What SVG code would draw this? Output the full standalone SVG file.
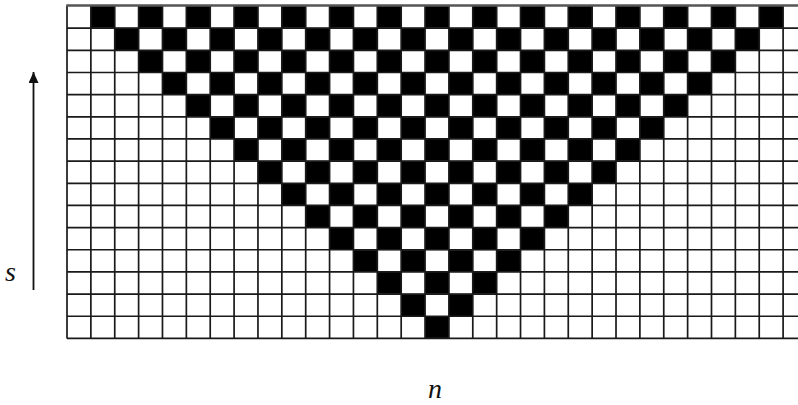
<svg xmlns="http://www.w3.org/2000/svg" width="798" height="405" viewBox="0 0 798 405">
  <style>
    .grid { stroke: #1a1a1a; stroke-width: 1.7; fill: none; }
    .lbl { font-family: "Liberation Serif", "DejaVu Serif", serif; font-style: italic; font-size: 28px; fill: #111; }
    .axis { stroke: #111; stroke-width: 1.8; fill: none; }
  </style>
  <defs>
    <pattern id="checker" patternUnits="userSpaceOnUse" x="67" y="6" width="47.74" height="44.32">
      <rect x="23.87" y="0" width="23.87" height="22.16" fill="#000"/>
      <rect x="0" y="22.16" width="23.87" height="22.16" fill="#000"/>
    </pattern>
    <marker id="arrow" markerUnits="userSpaceOnUse" markerWidth="11" markerHeight="10" refX="11" refY="5" viewBox="0 0 11 10" orient="auto">
      <path d="M0,0 L11,5 L0,10 Z" fill="#111"/>
    </marker>
  </defs>
  <rect x="0" y="0" width="798" height="405" fill="#fff"/>

  <g id="cells">
    <polygon fill="url(#checker)" points="90.87,6 90.87,28.16 114.74,28.16 114.74,50.32 138.61,50.32 138.61,72.48 162.48,72.48 162.48,94.64 186.35,94.64 186.35,116.8 210.22,116.8 210.22,138.96 234.09,138.96 234.09,161.12 257.96,161.12 257.96,183.28 281.83,183.28 281.83,205.44 305.7,205.44 305.7,227.6 329.57,227.6 329.57,249.76 353.44,249.76 353.44,271.92 377.31,271.92 377.31,294.08 401.18,294.08 401.18,316.24 425.05,316.24 425.05,338.4 448.92,338.4 448.92,316.24 472.79,316.24 472.79,294.08 496.66,294.08 496.66,271.92 520.53,271.92 520.53,249.76 544.4,249.76 544.4,227.6 568.27,227.6 568.27,205.44 592.14,205.44 592.14,183.28 616.01,183.28 616.01,161.12 639.88,161.12 639.88,138.96 663.75,138.96 663.75,116.8 687.62,116.8 687.62,94.64 711.49,94.64 711.49,72.48 735.36,72.48 735.36,50.32 759.23,50.32 759.23,28.16 783.1,28.16 783.1,6"/>
  </g>

  <g id="grid" class="grid">
    <path d="M67,6V338.4 M90.87,6V338.4 M114.74,6V338.4 M138.61,6V338.4 M162.48,6V338.4 M186.35,6V338.4 M210.22,6V338.4 M234.09,6V338.4 M257.96,6V338.4 M281.83,6V338.4 M305.7,6V338.4 M329.57,6V338.4 M353.44,6V338.4 M377.31,6V338.4 M401.18,6V338.4 M425.05,6V338.4 M448.92,6V338.4 M472.79,6V338.4 M496.66,6V338.4 M520.53,6V338.4 M544.4,6V338.4 M568.27,6V338.4 M592.14,6V338.4 M616.01,6V338.4 M639.88,6V338.4 M663.75,6V338.4 M687.62,6V338.4 M711.49,6V338.4 M735.36,6V338.4 M759.23,6V338.4 M783.1,6V338.4"/>
    <path d="M67,28.16H798 M67,50.32H798 M67,72.48H798 M67,94.64H798 M67,116.8H798 M67,138.96H798 M67,161.12H798 M67,183.28H798 M67,205.44H798 M67,227.6H798 M67,249.76H798 M67,271.92H798 M67,294.08H798 M67,316.24H798 M67,338.4H798"/>
    <path d="M66.2,5.5H798" stroke="#555" stroke-width="2.6"/>
  </g>

  <g id="connectors">
    <line class="axis" x1="33.5" y1="290" x2="33.5" y2="72" marker-end="url(#arrow)"/>
  </g>

  <g id="labels">
    <text class="lbl" x="5" y="281">s</text>
    <text class="lbl" x="428" y="398">n</text>
  </g>
</svg>
